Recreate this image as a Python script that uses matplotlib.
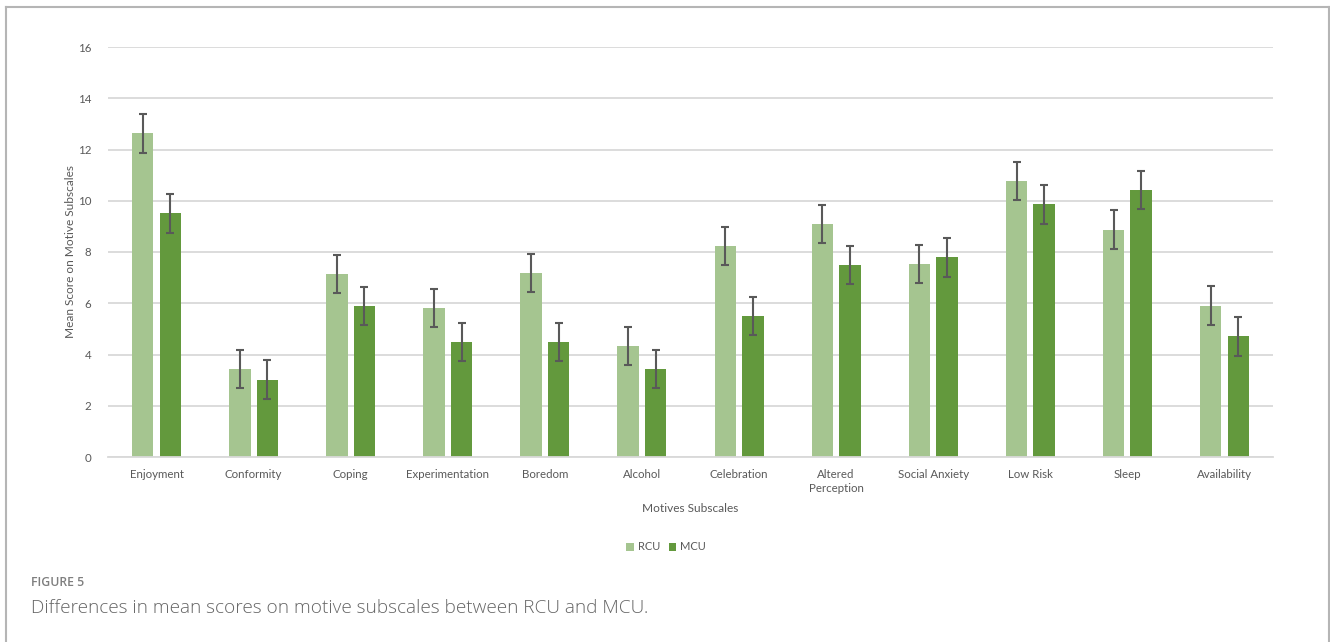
import matplotlib
matplotlib.use("Agg")
import matplotlib.pyplot as plt
import numpy as np
from matplotlib.lines import Line2D

categories = ["Enjoyment", "Conformity", "Coping", "Experimentation", "Boredom",
              "Alcohol", "Celebration", "Altered\nPerception", "Social Anxiety",
              "Low Risk", "Sleep", "Availability"]
rcu = [12.63, 3.43, 7.14, 5.81, 7.18, 4.33, 8.23, 9.09, 7.53, 10.76, 8.87, 5.91]
mcu = [9.51, 3.02, 5.89, 4.49, 4.49, 3.43, 5.50, 7.49, 7.79, 9.86, 10.41, 4.71]
rcu_err = [0.75] * 12
mcu_err = [0.75] * 12
yticks = [0, 2, 4, 6, 8, 10, 12, 14, 16]

light = "#A5C590"
dark = "#63993D"
txt = "#595959"

W, H = 1330, 642
fig = plt.figure(figsize=(W / 100, H / 100), dpi=100)
fig.patch.set_facecolor("white")

ax = fig.add_axes([108 / W, (H - 457) / H, (1273 - 108) / W, 410 / H])
x = np.arange(len(categories))
bw = 0.22
off = 0.142
ax.bar(x - off, rcu, bw, color=light, label="RCU", zorder=2)
ax.bar(x + off, mcu, bw, color=dark, label="MCU", zorder=2)
ax.errorbar(x - off, rcu, yerr=rcu_err, fmt="none", ecolor=txt, elinewidth=1.5,
            capsize=3, capthick=1.5, zorder=3)
ax.errorbar(x + off, mcu, yerr=mcu_err, fmt="none", ecolor=txt, elinewidth=1.5,
            capsize=3, capthick=1.5, zorder=3)

ax.set_xlim(-0.5, len(categories) - 0.5)
ax.set_ylim(0, 16)
ax.set_yticks(yticks)
ax.set_xticks(x)
ax.set_xticklabels(categories, fontsize=8.3, color=txt, family="Lato", linespacing=1.3)
ax.set_yticklabels([str(t) for t in yticks], fontsize=8.3, color=txt, family="Lato")
ax.tick_params(axis="x", length=0, pad=9)
ax.tick_params(axis="y", length=0, pad=12)
ax.yaxis.grid(True, color="#D9D9D9", linewidth=1.3, zorder=0)
ax.set_axisbelow(True)
for s in ["top", "right", "left"]:
    ax.spines[s].set_visible(False)
ax.spines["bottom"].set_color("#D9D9D9")
ax.spines["bottom"].set_linewidth(1.3)

ax.set_ylabel("Mean Score on Motive Subscales", fontsize=8.6, color=txt, family="Lato", labelpad=1)
fig.text(690 / W, 1 - 509 / H, "Motives Subscales", ha="center", va="center",
         fontsize=8.6, color=txt, family="Lato")

leg = fig.legend(loc="center", bbox_to_anchor=(666 / W, 1 - 547 / H), ncol=2, frameon=False,
                 handlelength=0.7, handleheight=0.7, handletextpad=0.3,
                 columnspacing=0.8, prop={"family": "Lato", "size": 8})
for t in leg.get_texts():
    t.set_color(txt)

fig.text(31 / W, 1 - 583 / H, "FIGURE 5", ha="left", va="center", fontsize=8.8,
         color="#7F7F7F", family="Open Sans", fontweight="semibold")
fig.text(31 / W, 1 - 608 / H, "Differences in mean scores on motive subscales between RCU and MCU.",
         ha="left", va="center", fontsize=13.7, color="#666666", family="Open Sans", fontweight="light")

# frame
fc = "#B5B5B5"
fig.add_artist(Line2D([6 / W, 1329 / W], [1 - 6.5 / H, 1 - 6.5 / H], transform=fig.transFigure, color=fc, lw=1.5))
fig.add_artist(Line2D([6 / W, 6 / W], [0, 1 - 6.5 / H], transform=fig.transFigure, color=fc, lw=1.5))
fig.add_artist(Line2D([1329 / W, 1329 / W], [0, 1 - 6.5 / H], transform=fig.transFigure, color=fc, lw=1.5))

fig.savefig("out.png", dpi=100, facecolor="white")
